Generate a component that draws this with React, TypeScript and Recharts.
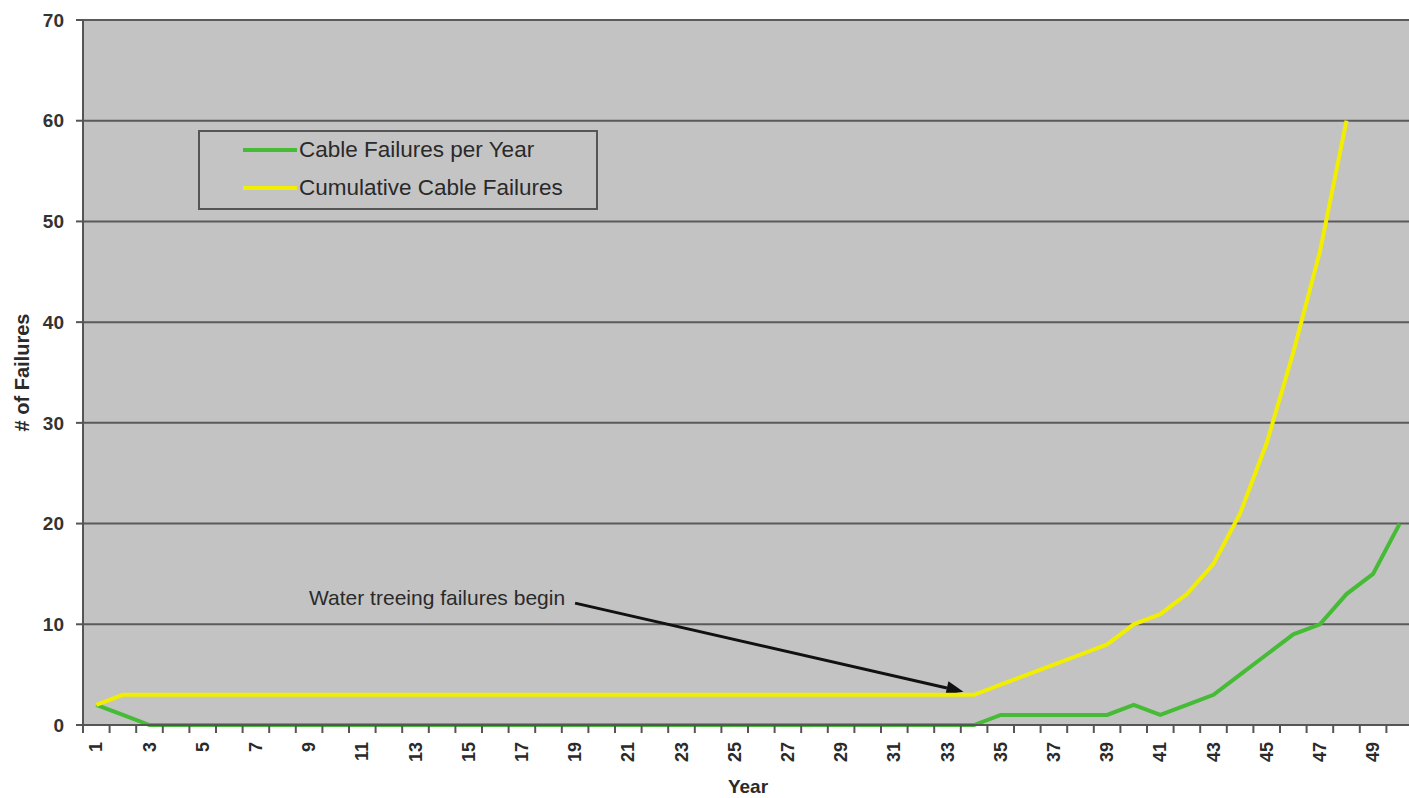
import React from "react";
import {
  LineChart,
  Line,
  XAxis,
  YAxis,
  CartesianGrid,
  Legend,
  ReferenceLine,
} from "recharts";

const years = [
  1, 2, 3, 4, 5, 6, 7, 8, 9, 10, 11, 12, 13, 14, 15, 16, 17, 18, 19, 20, 21, 22, 23, 24, 25,
  26, 27, 28, 29, 30, 31, 32, 33, 34, 35, 36, 37, 38, 39, 40, 41, 42, 43, 44, 45, 46, 47, 48,
  49, 50,
];

const failuresPerYear = [
  2, 1, 0, 0, 0, 0, 0, 0, 0, 0, 0, 0, 0, 0, 0, 0, 0, 0, 0, 0, 0, 0, 0, 0, 0,
  0, 0, 0, 0, 0, 0, 0, 0, 0, 1, 1, 1, 1, 1, 2, 1, 2, 3, 5, 7, 9, 10, 13,
  15, 20,
];

const cumulativeFailures = [
  2, 3, 3, 3, 3, 3, 3, 3, 3, 3, 3, 3, 3, 3, 3, 3, 3, 3, 3, 3, 3, 3, 3, 3, 3,
  3, 3, 3, 3, 3, 3, 3, 3, 3, 4, 5, 6, 7, 8, 10, 11, 13, 16, 21, 28, 37, 47, 60,
  null, null,
];

const yTicks = [0, 10, 20, 30, 40, 50, 60, 70];

// arrow pointing at the start of the water treeing failures
const annotationText = "Water treeing failures begin";
const arrowFrom = { x: 19, y: 12.1 };
const arrowTo = { x: 33.6, y: 3.3 };

const data = years.map((year, i) => ({
  year,
  perYear: failuresPerYear[i],
  cumulative: cumulativeFailures[i],
}));

const WIDTH = 1414;
const HEIGHT = 798;
const MARGIN = { top: 20, right: 1, bottom: 0, left: 0 };
const Y_AXIS_W = 83;
const X_AXIS_H = 73;
const BAND = (WIDTH - MARGIN.left - MARGIN.right - Y_AXIS_W) / years.length;

const FONT = "'Liberation Sans', Arial, sans-serif";
const TEXT = "#2a2a2a";
const AXIS = "#555";
const GREEN = "#46bb35";
const YELLOW = "#f2ee00";

// Excel-style category tick: mark on the boundary, label on odd years
function YearTick(props: any) {
  const { x, y, payload } = props;
  const year = payload.value as number;
  return (
    <g>
      <line x1={x - BAND / 2} x2={x - BAND / 2} y1={y - 8} y2={y} stroke={AXIS} strokeWidth={2} />
      {year % 2 === 1 && (
        <text
          x={x}
          y={y + 9}
          transform={`rotate(-90, ${x}, ${y + 9})`}
          textAnchor="end"
          dominantBaseline="central"
          fontFamily={FONT}
          fontSize={18}
          fontWeight="bold"
          fill={TEXT}
        >
          {year}
        </text>
      )}
    </g>
  );
}

function ArrowShape(props: any) {
  const { x1, y1, x2, y2 } = props;
  const len = Math.hypot(x2 - x1, y2 - y1);
  const ux = (x2 - x1) / len;
  const uy = (y2 - y1) / len;
  const head = 17;
  const half = 7;
  const bx = x2 - ux * head;
  const by = y2 - uy * head;
  return (
    <g>
      <line x1={x1} y1={y1} x2={bx} y2={by} stroke="#111" strokeWidth={3} />
      <polygon
        points={`${x2},${y2} ${bx - uy * half},${by + ux * half} ${bx + uy * half},${by - ux * half}`}
        fill="#111"
      />
      <text
        x={x1 - 10}
        y={y1 - 6}
        textAnchor="end"
        dominantBaseline="central"
        fontFamily={FONT}
        fontSize={21}
        fill={TEXT}
      >
        {annotationText}
      </text>
    </g>
  );
}

function LegendBox(props: any) {
  const items = props.payload || [];
  return (
    <div
      style={{
        width: 396,
        height: 76,
        border: `2px solid ${AXIS}`,
        background: "#c4c4c4",
        position: "relative",
      }}
    >
      {items.map((item: any, i: number) => (
        <div
          key={item.value}
          style={{
            position: "absolute",
            left: 43,
            top: 4 + i * 38,
            height: 28,
            display: "flex",
            alignItems: "center",
          }}
        >
          <span style={{ width: 54, height: 4, background: item.color, display: "inline-block" }} />
          <span
            style={{
              marginLeft: 2,
              fontFamily: FONT,
              fontSize: 22.5,
              color: TEXT,
              whiteSpace: "nowrap",
            }}
          >
            {item.value}
          </span>
        </div>
      ))}
    </div>
  );
}

export default function App() {
  return (
    <div
      style={{
        position: "absolute",
        left: 0,
        top: 0,
        width: 1409,
        height: 798,
        overflow: "hidden",
        background: "#fff",
      }}
    >
      <LineChart width={WIDTH} height={HEIGHT} data={data} margin={MARGIN}>
        <CartesianGrid
          horizontal
          vertical={false}
          fill="#c3c3c3"
          fillOpacity={1}
          stroke="#5a5a5a"
          strokeWidth={2}
        />
        <XAxis
          dataKey="year"
          type="number"
          domain={[0.5, years.length + 0.5]}
          ticks={years}
          interval={0}
          height={X_AXIS_H}
          tickSize={8}
          tickMargin={0}
          tickLine={false}
          axisLine={{ stroke: AXIS, strokeWidth: 2 }}
          tick={<YearTick />}
          label={({ viewBox }: any) => (
            <text
              x={viewBox.x + viewBox.width / 2}
              y={786}
              textAnchor="middle"
              dominantBaseline="central"
              fontFamily={FONT}
              fontSize={19}
              fontWeight="bold"
              fill={TEXT}
            >
              Year
            </text>
          )}
        />
        <YAxis
          domain={[0, 70]}
          ticks={yTicks}
          width={Y_AXIS_W}
          tickSize={7}
          tickMargin={12}
          tickLine={{ stroke: AXIS, strokeWidth: 2 }}
          axisLine={{ stroke: AXIS, strokeWidth: 2 }}
          tick={{ fontFamily: FONT, fontSize: 19, fontWeight: "bold", fill: "#333" }}
          label={({ viewBox }: any) => {
            const cy = viewBox.y + viewBox.height / 2;
            return (
              <text
                x={22}
                y={cy}
                transform={`rotate(-90, 22, ${cy})`}
                textAnchor="middle"
                dominantBaseline="central"
                fontFamily={FONT}
                fontSize={20}
                fontWeight="bold"
                fill={TEXT}
              >
                # of Failures
              </text>
            );
          }}
        />
        <Legend
          layout="horizontal"
          verticalAlign="middle"
          align="center"
          wrapperStyle={{ left: 198, top: 130, width: 400, height: 80 }}
          content={<LegendBox />}
        />
        <ReferenceLine segment={[arrowFrom, arrowTo]} shape={<ArrowShape />} />
        <Line
          dataKey="perYear"
          name="Cable Failures per Year"
          stroke={GREEN}
          strokeWidth={4}
          dot={false}
          isAnimationActive={false}
        />
        <Line
          dataKey="cumulative"
          name="Cumulative Cable Failures"
          stroke={YELLOW}
          strokeWidth={4}
          dot={false}
          isAnimationActive={false}
        />
      </LineChart>
    </div>
  );
}
